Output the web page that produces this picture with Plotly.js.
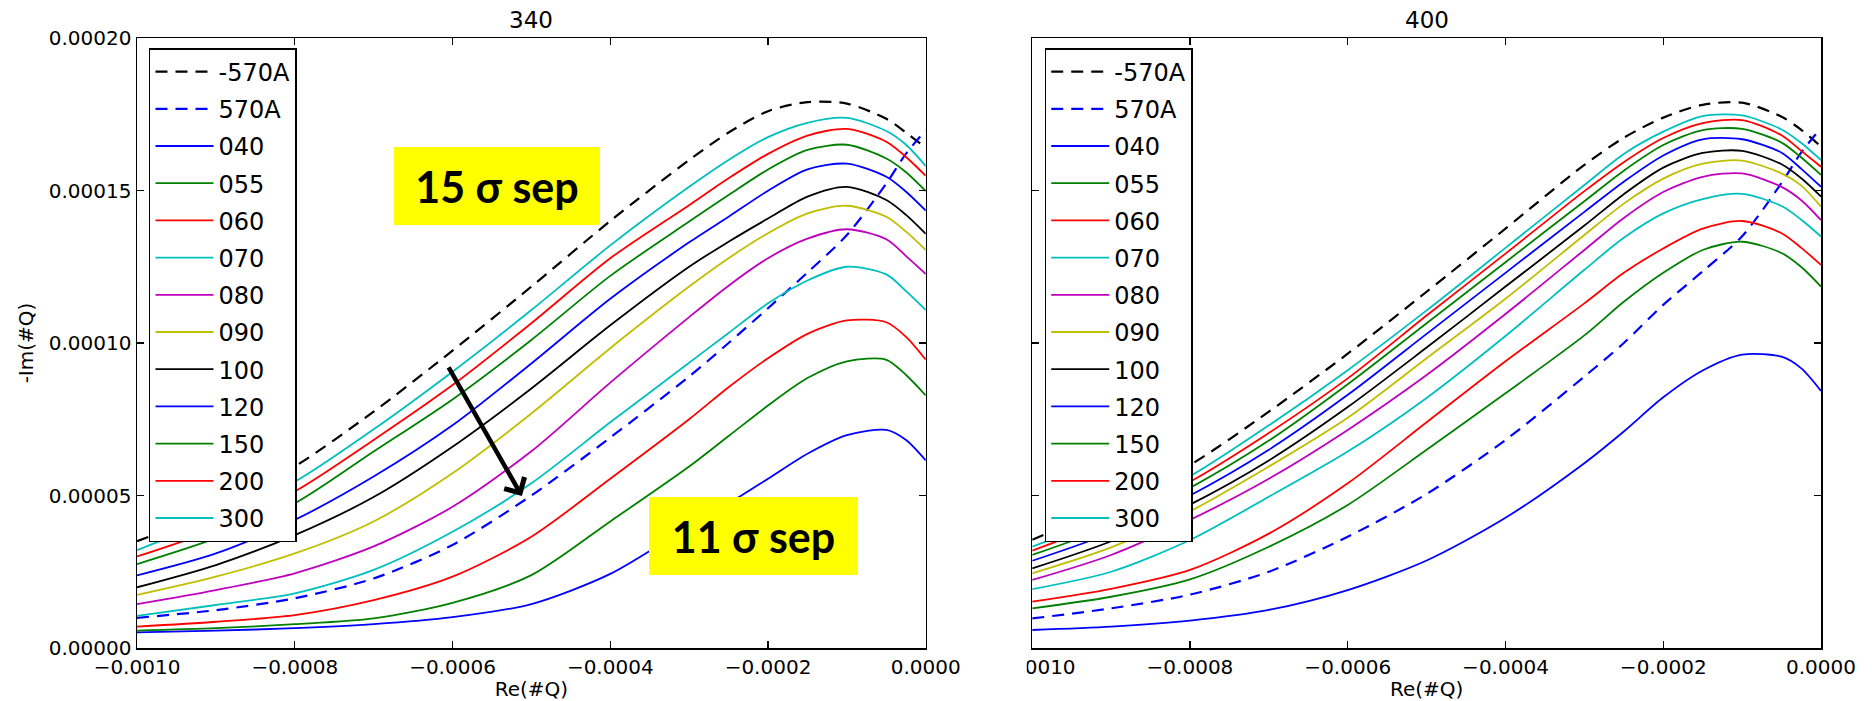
<!DOCTYPE html>
<html>
<head>
<meta charset="utf-8">
<script src="https://cdn.plot.ly/plotly-3.0.1.min.js"></script>
<style>html,body{margin:0;padding:0;background:#fff;}#chart{width:1872px;height:701px;}</style>
</head>
<body>
<div id="chart"></div>
<script>
// ---------- data ----------
const reQ = [-0.001, -0.0009, -0.0008, -0.0007, -0.0006, -0.0005, -0.0004, -0.0003, -0.00025, -0.0002, -0.00015, -0.0001, -0.00005, -0.000025, 0];

const seriesNames = ["-570A", "570A", "040", "055", "060", "070", "080", "090", "100", "120", "150", "200", "300"];
const panelTitles = ["340", "400"];

// panel "340"
const p340_m570A = [3.5e-5, 4.55e-5, 5.95e-5, 7.75e-5, 9.75e-5, 11.85e-5, 14.0e-5, 16.0e-5, 16.9e-5, 17.6e-5, 17.9e-5, 17.85e-5, 17.35e-5, 16.9e-5, 16.4e-5];
const p340_p570A = [0.99e-5, 1.24e-5, 1.63e-5, 2.28e-5, 3.38e-5, 5.0e-5, 6.9e-5, 8.9e-5, 10.0e-5, 11.14e-5, 12.31e-5, 13.54e-5, 15.23e-5, 16.21e-5, 16.98e-5];
const p340_040 = [0.51e-5, 0.57e-5, 0.65e-5, 0.78e-5, 1.01e-5, 1.44e-5, 2.43e-5, 3.99e-5, 4.74e-5, 5.55e-5, 6.37e-5, 6.98e-5, 7.15e-5, 6.82e-5, 6.15e-5];
const p340_055 = [0.57e-5, 0.65e-5, 0.78e-5, 0.97e-5, 1.48e-5, 2.39e-5, 4.15e-5, 5.95e-5, 6.95e-5, 7.95e-5, 8.85e-5, 9.4e-5, 9.45e-5, 8.95e-5, 8.28e-5];
const p340_060 = [0.7e-5, 0.86e-5, 1.08e-5, 1.57e-5, 2.34e-5, 3.65e-5, 5.55e-5, 7.5e-5, 8.55e-5, 9.5e-5, 10.3e-5, 10.74e-5, 10.68e-5, 10.2e-5, 9.45e-5];
const p340_070 = [1.05e-5, 1.41e-5, 1.79e-5, 2.56e-5, 3.81e-5, 5.4e-5, 7.4e-5, 9.35e-5, 10.33e-5, 11.3e-5, 12.05e-5, 12.5e-5, 12.25e-5, 11.7e-5, 11.08e-5];
const p340_080 = [1.44e-5, 1.9e-5, 2.45e-5, 3.33e-5, 4.63e-5, 6.45e-5, 8.7e-5, 10.85e-5, 11.88e-5, 12.78e-5, 13.42e-5, 13.73e-5, 13.4e-5, 12.85e-5, 12.26e-5];
const p340_090 = [1.74e-5, 2.34e-5, 3.1e-5, 4.15e-5, 5.73e-5, 7.69e-5, 9.83e-5, 11.85e-5, 12.78e-5, 13.6e-5, 14.25e-5, 14.5e-5, 14.14e-5, 13.65e-5, 13.05e-5];
const p340_100 = [1.99e-5, 2.72e-5, 3.7e-5, 4.95e-5, 6.6e-5, 8.51e-5, 10.58e-5, 12.5e-5, 13.32e-5, 14.08e-5, 14.8e-5, 15.12e-5, 14.69e-5, 14.2e-5, 13.58e-5];
const p340_120 = [2.38e-5, 3.1e-5, 4.2e-5, 5.62e-5, 7.3e-5, 9.33e-5, 11.45e-5, 13.3e-5, 14.14e-5, 14.99e-5, 15.69e-5, 15.88e-5, 15.45e-5, 14.96e-5, 14.34e-5];
const p340_150 = [2.75e-5, 3.6e-5, 4.74e-5, 6.44e-5, 8.15e-5, 10.1e-5, 12.2e-5, 13.98e-5, 14.85e-5, 15.69e-5, 16.33e-5, 16.5e-5, 16.05e-5, 15.6e-5, 14.98e-5];
const p340_200 = [3.0e-5, 3.9e-5, 5.13e-5, 6.82e-5, 8.62e-5, 10.65e-5, 12.78e-5, 14.52e-5, 15.4e-5, 16.2e-5, 16.8e-5, 17.02e-5, 16.6e-5, 16.1e-5, 15.48e-5];
const p340_300 = [3.21e-5, 4.25e-5, 5.45e-5, 7.17e-5, 9.06e-5, 11.08e-5, 13.2e-5, 15.12e-5, 16.0e-5, 16.75e-5, 17.22e-5, 17.38e-5, 16.95e-5, 16.5e-5, 15.8e-5];

// panel "400"
const p400_m570A = [3.55e-5, 4.7e-5, 6.0e-5, 7.75e-5, 9.65e-5, 11.68e-5, 13.75e-5, 15.84e-5, 16.73e-5, 17.39e-5, 17.81e-5, 17.88e-5, 17.42e-5, 16.99e-5, 16.44e-5];
const p400_p570A = [0.97e-5, 1.3e-5, 1.75e-5, 2.5e-5, 3.65e-5, 5.05e-5, 6.82e-5, 8.9e-5, 10.0e-5, 11.25e-5, 12.35e-5, 13.5e-5, 15.25e-5, 16.25e-5, 17.05e-5];
const p400_040 = [0.59e-5, 0.7e-5, 0.9e-5, 1.25e-5, 1.9e-5, 2.87e-5, 4.27e-5, 6.06e-5, 7.1e-5, 8.22e-5, 9.1e-5, 9.62e-5, 9.55e-5, 9.17e-5, 8.43e-5];
const p400_055 = [1.3e-5, 1.68e-5, 2.25e-5, 3.32e-5, 4.69e-5, 6.5e-5, 8.35e-5, 10.25e-5, 11.35e-5, 12.3e-5, 13.05e-5, 13.32e-5, 12.95e-5, 12.49e-5, 11.85e-5];
const p400_060 = [1.52e-5, 1.94e-5, 2.56e-5, 3.75e-5, 5.4e-5, 7.4e-5, 9.4e-5, 11.3e-5, 12.3e-5, 13.1e-5, 13.75e-5, 14.0e-5, 13.6e-5, 13.12e-5, 12.56e-5];
const p400_070 = [1.93e-5, 2.5e-5, 3.54e-5, 4.96e-5, 6.44e-5, 8.2e-5, 10.23e-5, 12.4e-5, 13.45e-5, 14.25e-5, 14.72e-5, 14.89e-5, 14.49e-5, 14.04e-5, 13.49e-5];
const p400_080 = [2.23e-5, 3.05e-5, 4.2e-5, 5.55e-5, 7.15e-5, 8.95e-5, 10.95e-5, 13.05e-5, 14.1e-5, 14.95e-5, 15.45e-5, 15.56e-5, 15.12e-5, 14.68e-5, 14.03e-5];
const p400_090 = [2.45e-5, 3.3e-5, 4.48e-5, 5.95e-5, 7.55e-5, 9.5e-5, 11.45e-5, 13.54e-5, 14.57e-5, 15.39e-5, 15.88e-5, 15.98e-5, 15.56e-5, 15.16e-5, 14.47e-5];
const p400_100 = [2.61e-5, 3.5e-5, 4.7e-5, 6.15e-5, 7.9e-5, 9.85e-5, 11.85e-5, 13.85e-5, 14.88e-5, 15.75e-5, 16.23e-5, 16.3e-5, 15.86e-5, 15.4e-5, 14.8e-5];
const p400_120 = [2.86e-5, 3.78e-5, 5.0e-5, 6.5e-5, 8.3e-5, 10.3e-5, 12.3e-5, 14.3e-5, 15.29e-5, 16.15e-5, 16.68e-5, 16.68e-5, 16.24e-5, 15.71e-5, 15.12e-5];
const p400_150 = [3.05e-5, 4.0e-5, 5.25e-5, 6.8e-5, 8.65e-5, 10.65e-5, 12.65e-5, 14.65e-5, 15.65e-5, 16.49e-5, 16.98e-5, 17.02e-5, 16.57e-5, 16.08e-5, 15.51e-5];
const p400_200 = [3.19e-5, 4.2e-5, 5.45e-5, 7.05e-5, 8.84e-5, 10.9e-5, 12.93e-5, 14.98e-5, 15.93e-5, 16.72e-5, 17.21e-5, 17.31e-5, 16.81e-5, 16.3e-5, 15.78e-5];
const p400_300 = [3.32e-5, 4.35e-5, 5.63e-5, 7.3e-5, 9.11e-5, 11.07e-5, 13.12e-5, 15.18e-5, 16.2e-5, 16.93e-5, 17.44e-5, 17.46e-5, 17.0e-5, 16.56e-5, 16.0e-5];

const xTickVals = [-0.001, -0.0008, -0.0006, -0.0004, -0.0002, 0];
const xTickText = ["\u22120.0010", "\u22120.0008", "\u22120.0006", "\u22120.0004", "\u22120.0002", "0.0000"];
const yTickVals = [0, 0.00005, 0.0001, 0.00015, 0.0002];
const yTickText = ["0.00000", "0.00005", "0.00010", "0.00015", "0.00020"];

// annotation texts
const note15 = "15 \u03c3 sep";
const note11 = "11 \u03c3 sep";

// ---------- styling ----------
const seriesColors = ["#000000", "#0000ff", "#0000ff", "#008000", "#ff0000", "#00bfbf", "#bf00bf", "#bfbf00", "#000000", "#0000ff", "#008000", "#ff0000", "#00bfbf"];
const seriesDash = ["12px,8px", "12px,8px", "solid", "solid", "solid", "solid", "solid", "solid", "solid", "solid", "solid", "solid", "solid"];

const panel340 = [p340_m570A, p340_p570A, p340_040, p340_055, p340_060, p340_070, p340_080, p340_090, p340_100, p340_120, p340_150, p340_200, p340_300];
const panel400 = [p400_m570A, p400_p570A, p400_040, p400_055, p400_060, p400_070, p400_080, p400_090, p400_100, p400_120, p400_150, p400_200, p400_300];

const FONT = "DejaVu Sans, Liberation Sans, sans-serif";
const traces = [];
function addPanel(vals, xa, ya, legendId, tag) {
  vals.forEach((yv, i) => {
    const dashed = seriesDash[i] !== "solid";
    traces.push({
      type: "scatter", mode: "lines",
      x: reQ, y: yv, xaxis: xa, yaxis: ya,
      name: seriesNames[i],
      legend: legendId,
      legendgroup: tag + "_" + seriesNames[i],
      line: {color: seriesColors[i], width: dashed ? 2.2 : 1.8, dash: seriesDash[i], shape: "spline", smoothing: 0.8},
      hoverinfo: "skip"
    });
  });
}
addPanel(panel340, "x", "y", "legend", "a");
addPanel(panel400, "x2", "y2", "legend2", "b");

// geometry (pixels)
const W = 1872, H = 701;
const mL = 137, mR = 50.5, mT = 38, mB = 53;
const plotW = W - mL - mR, plotH = H - mT - mB;
const px = (p) => (p - mL) / plotW;
const py = (p) => (H - mB - p) / plotH;

const axisCommon = {
  showline: true, linecolor: "#000", linewidth: 1.5, mirror: "ticks",
  ticks: "inside", ticklen: 7, tickwidth: 1.3, tickcolor: "#000",
  showgrid: false, zeroline: false,
  tickfont: {family: FONT, size: 20, color: "#000"}
};

const legendCommon = {
  xanchor: "left", yanchor: "top",
  bgcolor: "#ffffff", bordercolor: "#000000", borderwidth: 1.5,
  font: {family: FONT, size: 24, color: "#000"},
  traceorder: "grouped", tracegroupgap: 3, itemwidth: 58
};

const layout = {
  width: W, height: H,
  margin: {l: mL, r: mR, t: mT, b: mB, pad: 0},
  paper_bgcolor: "#fff", plot_bgcolor: "#fff",
  showlegend: true,
  xaxis: Object.assign({}, axisCommon, {
    domain: [0, px(926)], range: [-0.001, 0], anchor: "y",
    tickvals: xTickVals, ticktext: xTickText,
    title: {text: "Re(#Q)", font: {family: FONT, size: 20, color: "#000"}, standoff: 8}
  }),
  yaxis: Object.assign({}, axisCommon, {
    domain: [0, 1], range: [0, 0.0002], anchor: "x",
    tickvals: yTickVals, ticktext: yTickText,
    title: {text: "-Im(#Q)", font: {family: FONT, size: 20, color: "#000"}, standoff: 10}
  }),
  xaxis2: Object.assign({}, axisCommon, {
    domain: [px(1032.5), 1], range: [-0.001, 0], anchor: "y2",
    tickvals: xTickVals, ticktext: xTickText,
    title: {text: "Re(#Q)", font: {family: FONT, size: 20, color: "#000"}, standoff: 8}
  }),
  yaxis2: Object.assign({}, axisCommon, {
    domain: [0, 1], range: [0, 0.0002], anchor: "x2",
    tickvals: yTickVals, showticklabels: false
  }),
  legend: Object.assign({}, legendCommon, {x: px(149), y: py(48)}),
  legend2: Object.assign({}, legendCommon, {x: px(1045), y: py(48)}),
  shapes: [
    {type: "rect", xref: "paper", yref: "paper", x0: px(975), x1: px(1027), y0: py(651), y1: py(701),
     fillcolor: "#ffffff", line: {width: 0}, layer: "above"}
  ],
  annotations: [
    {xref: "paper", yref: "paper", x: px(531.5), y: py(20), text: panelTitles[0], showarrow: false,
     xanchor: "center", yanchor: "middle", font: {family: FONT, size: 23, color: "#000"}},
    {xref: "paper", yref: "paper", x: px(1427), y: py(20), text: panelTitles[1], showarrow: false,
     xanchor: "center", yanchor: "middle", font: {family: FONT, size: 23, color: "#000"}},
    {xref: "x", yref: "y", x: -0.000544, y: 1.5164e-4, text: "<b>" + note15 + "</b>", showarrow: false,
     width: 206, height: 78, bgcolor: "#ffff00", borderpad: 0, borderwidth: 0,
     xanchor: "center", yanchor: "middle", align: "center", valign: "middle",
     font: {family: "Lato, Open Sans, sans-serif", size: 43, color: "#000"}},
    {xref: "x", yref: "y", x: -0.0002186, y: 3.672e-5, text: "<b>" + note11 + "</b>", showarrow: false,
     width: 209, height: 78, bgcolor: "#ffff00", borderpad: 0, borderwidth: 0,
     xanchor: "center", yanchor: "middle", align: "center", valign: "middle",
     font: {family: "Lato, Open Sans, sans-serif", size: 43, color: "#000"}},
    {xref: "x", yref: "y", axref: "x", ayref: "y",
     x: -0.000512, y: 4.98e-5, ax: -0.000606, ay: 9.25e-5,
     text: "", showarrow: true, arrowhead: 4, arrowsize: 1, arrowwidth: 4.5, arrowcolor: "#000", standoff: 0}
  ]
};

Plotly.newPlot("chart", traces, layout, {displayModeBar: false, staticPlot: true});
</script>
</body>
</html>
